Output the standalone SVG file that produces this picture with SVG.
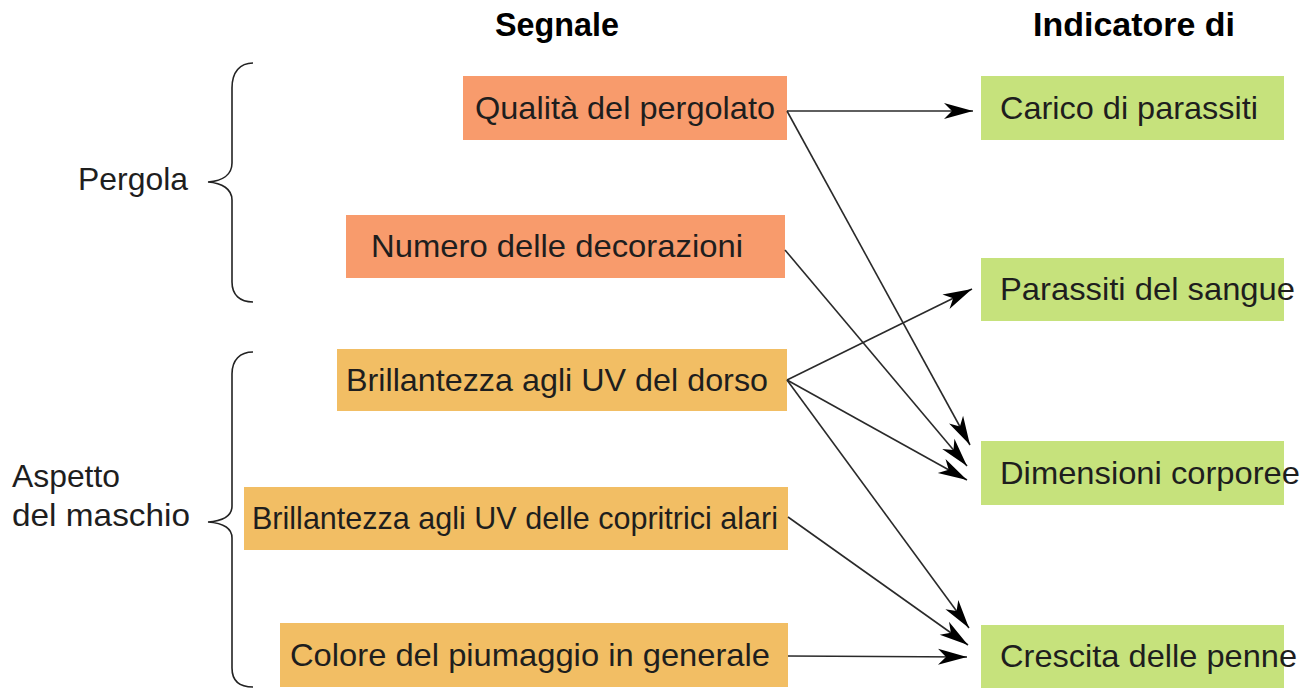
<svg xmlns="http://www.w3.org/2000/svg" width="1311" height="693" viewBox="0 0 1311 693">
<style>
text{font-family:"Liberation Sans",Arial,sans-serif;font-size:32px;fill:#1e1e1e}
.h{font-weight:bold;font-size:33px;fill:#000}
.o{fill:#F89B6C}
.y{fill:#F2BE64}
.g{fill:#C6E27C}
.c{stroke:#2a2a2a;stroke-width:1.6;fill:none;marker-end:url(#ah)}
.b{stroke:#222;stroke-width:1.6;fill:none}
</style>
<defs>
<marker id="ah" markerUnits="userSpaceOnUse" viewBox="-30 -9 31 18" refX="0" refY="0" markerWidth="31" markerHeight="18" orient="auto">
<path d="M-29,-8 L0,0 L-29,8 L-21,0 Z" fill="#000"/>
</marker>
</defs>
<rect width="1311" height="693" fill="#fff"/>
<g id="headers">
<text class="h" x="495" y="36" textLength="124" lengthAdjust="spacingAndGlyphs">Segnale</text>
<text class="h" x="1033" y="36" textLength="202" lengthAdjust="spacingAndGlyphs">Indicatore di</text>
</g>
<g id="pergola">
<path class="b" d="M253,63 C240,63 232,72 232,88 L232,163 C232,175 222,181 208,182 C222,183 232,189 232,200 L232,282 C232,295 240,302 253,302"/>
<text x="78" y="190" textLength="110" lengthAdjust="spacingAndGlyphs">Pergola</text>
</g>
<g id="aspetto">
<path class="b" d="M253,352 C240,352 232,360 232,374 L232,506 C232,516 222,521 208,522 C222,523 232,528 232,538 L232,668 C232,681 240,687 253,687"/>
<text x="12" y="487" textLength="108" lengthAdjust="spacingAndGlyphs">Aspetto</text>
<text x="12" y="526" textLength="178" lengthAdjust="spacingAndGlyphs">del maschio</text>
</g>
<g id="s1"><rect class="o" x="463" y="76" width="324" height="64"/><text x="475" y="119" textLength="300" lengthAdjust="spacingAndGlyphs">Qualità del pergolato</text></g>
<g id="s2"><rect class="o" x="346" y="215" width="439" height="63"/><text x="371" y="257" textLength="372" lengthAdjust="spacingAndGlyphs">Numero delle decorazioni</text></g>
<g id="s3"><rect class="y" x="337" y="349" width="450" height="62"/><text x="346" y="391" textLength="422" lengthAdjust="spacingAndGlyphs">Brillantezza agli UV del dorso</text></g>
<g id="s4"><rect class="y" x="244" y="487" width="544" height="63"/><text x="252" y="529" textLength="526" lengthAdjust="spacingAndGlyphs">Brillantezza agli UV delle copritrici alari</text></g>
<g id="s5"><rect class="y" x="280" y="623" width="508" height="64"/><text x="290" y="666" textLength="480" lengthAdjust="spacingAndGlyphs">Colore del piumaggio in generale</text></g>
<g id="i1"><rect class="g" x="981" y="76" width="303" height="64"/><text x="1000" y="119" textLength="258" lengthAdjust="spacingAndGlyphs">Carico di parassiti</text></g>
<g id="i2"><rect class="g" x="981" y="258" width="303" height="63"/><text x="1000" y="300" textLength="295" lengthAdjust="spacingAndGlyphs">Parassiti del sangue</text></g>
<g id="i3"><rect class="g" x="981" y="441" width="303" height="64"/><text x="1000" y="484" textLength="300" lengthAdjust="spacingAndGlyphs">Dimensioni corporee</text></g>
<g id="i4"><rect class="g" x="981" y="625" width="303" height="63"/><text x="1000" y="667" textLength="297" lengthAdjust="spacingAndGlyphs">Crescita delle penne</text></g>
<g id="connectors">
<line class="c" x1="787" y1="111" x2="973" y2="111"/>
<line class="c" x1="787" y1="111" x2="970" y2="445"/>
<line class="c" x1="785" y1="250" x2="967" y2="466"/>
<line class="c" x1="787" y1="380" x2="972" y2="289"/>
<line class="c" x1="787" y1="380" x2="967" y2="480"/>
<line class="c" x1="787" y1="380" x2="969" y2="628"/>
<line class="c" x1="788" y1="517" x2="968" y2="645"/>
<line class="c" x1="788" y1="656" x2="967" y2="657"/>
</g>
</svg>
